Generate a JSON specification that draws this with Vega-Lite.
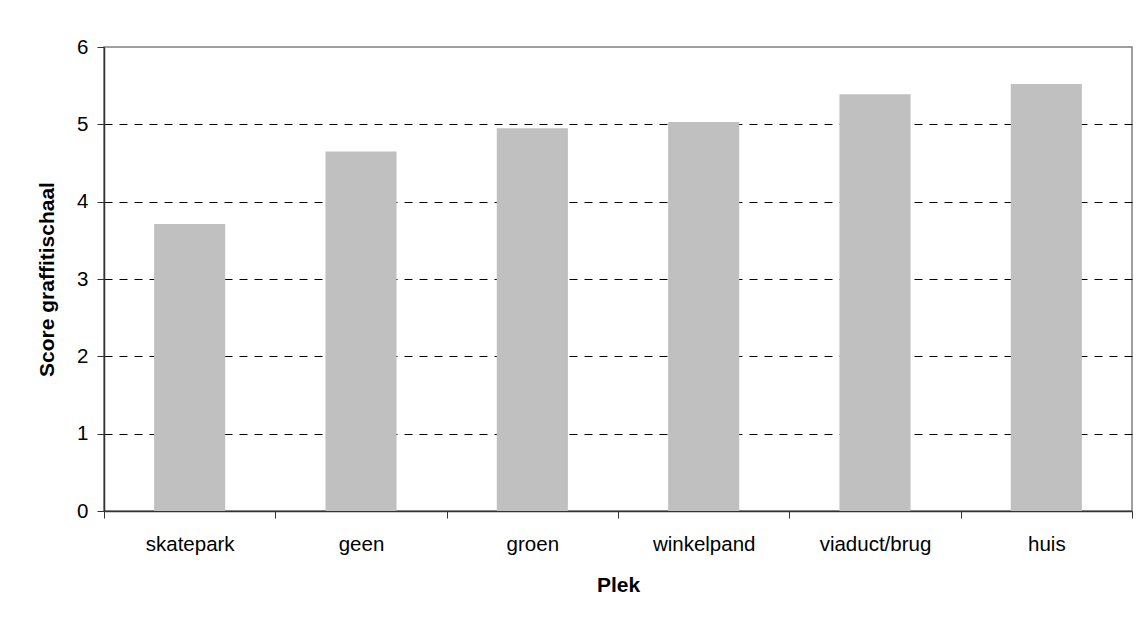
{
  "$schema": "https://vega.github.io/schema/vega-lite/v6.json",
  "autosize": "none",
  "width": 1028,
  "height": 464,
  "padding": {"left": 104, "top": 47, "right": 5, "bottom": 113},
  "background": "white",
  "config": {
    "font": "Liberation Sans",
    "view": {"stroke": "#808080", "strokeWidth": 1.5},
    "axis": {
      "labelFont": "Liberation Sans",
      "titleFont": "Liberation Sans",
      "labelColor": "black",
      "titleColor": "black",
      "domainColor": "#333333",
      "tickColor": "#333333",
      "domainWidth": 1.5,
      "tickWidth": 1,
      "tickSize": 7
    }
  },
  "data": {
    "values": [
      {"plek": "skatepark", "score": 3.71},
      {"plek": "geen", "score": 4.65},
      {"plek": "groen", "score": 4.95},
      {"plek": "winkelpand", "score": 5.03},
      {"plek": "viaduct/brug", "score": 5.39},
      {"plek": "huis", "score": 5.52}
    ]
  },
  "mark": {"type": "bar", "color": "#C0C0C0", "width": {"band": 0.415}},
  "encoding": {
    "x": {
      "field": "plek",
      "type": "nominal",
      "sort": null,
      "scale": {"paddingInner": 0, "paddingOuter": 0},
      "axis": {
        "title": "Plek",
        "titleFontSize": 21,
        "titleFontWeight": "bold",
        "titlePadding": 20,
        "labelFontSize": 20.5,
        "labelAngle": 0,
        "labelPadding": 16,
        "tickBand": "extent",
        "grid": false
      }
    },
    "y": {
      "field": "score",
      "type": "quantitative",
      "scale": {"domain": [0, 6], "nice": false},
      "axis": {
        "title": "Score graffitischaal",
        "titleFontSize": 21,
        "titleFontWeight": "bold",
        "titlePadding": 19,
        "labelFontSize": 20.5,
        "labelPadding": 9,
        "values": [0, 1, 2, 3, 4, 5, 6],
        "grid": true,
        "gridColor": "black",
        "gridDash": [8, 7],
        "gridWidth": 1,
        "gridOpacity": {"condition": {"test": "datum.value == 0 || datum.value == 6", "value": 0}, "value": 1}
      }
    }
  }
}
